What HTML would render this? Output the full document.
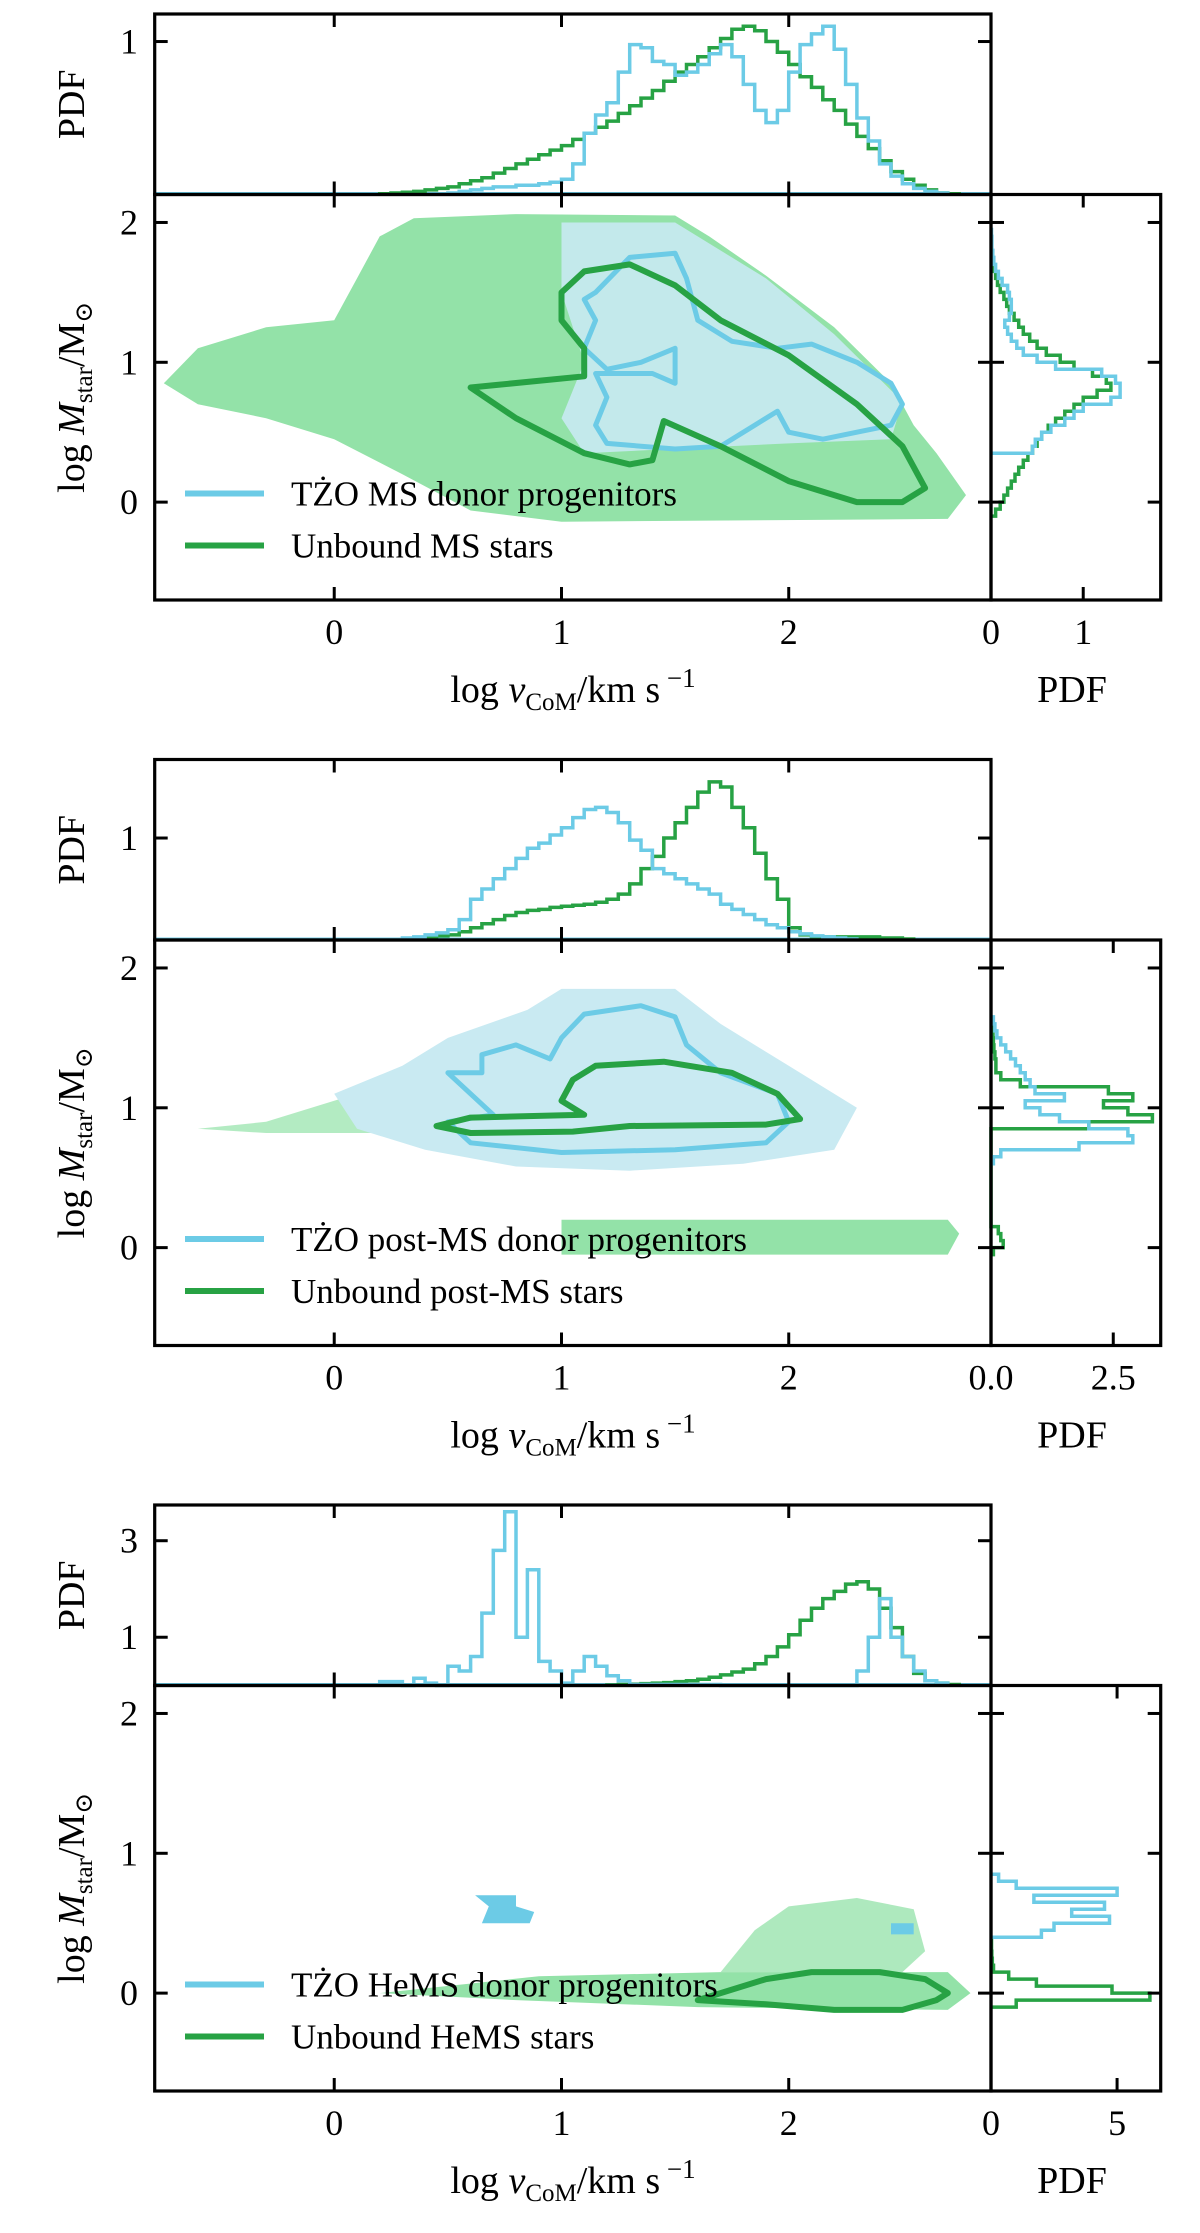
<!DOCTYPE html>
<html><head><meta charset="utf-8"><style>
html,body{margin:0;padding:0;background:#fff;}
svg{display:block;font-family:"Liberation Serif","DejaVu Serif",serif;}
</style></head>
<body>
<svg id="fig" width="1200" height="2233" viewBox="0 0 1200 2233" xmlns="http://www.w3.org/2000/svg"></svg>
<script>
// ---------- data ----------
const xTicks = [0, 1, 2];
const yTicks = [0, 1, 2];
const binW = 0.05;
// panel 1 (MS)
const p1TopGreenStart = 0.2;
const p1TopGreen = [.005,.01,.015,.02,.03,.04,.05,.07,.09,.11,.14,.17,.2,.23,.26,.29,.32,.36,.4,.44,.48,.53,.58,.63,.68,.74,.8,.85,.9,.96,1.02,1.08,1.1,1.07,1.0,.93,.85,.77,.7,.62,.55,.46,.38,.3,.22,.15,.1,.06,.03,.01,.005];
const p1TopBlueStart = 0.5;
const p1TopBlue = [.01,.02,.03,.04,.05,.05,.06,.06,.07,.08,.1,.2,.4,.52,.6,.8,.98,.96,.87,.85,.78,.8,.85,.92,.98,.9,.72,.55,.47,.55,.8,.98,1.05,1.1,.95,.72,.5,.35,.2,.12,.07,.04,.02,.01];
const p1RightBlueStart = 0.35;
const p1RightBlue = [.45,.48,.55,.65,.8,.9,1.0,1.3,1.4,1.4,1.35,1.2,.7,.5,.35,.28,.22,.18,.15,.2,.22,.22,.2,.18,.12,.08,.05,.03,.02,.01,.01,.005];
const p1RightGreenStart = -0.1;
const p1RightGreen = [.05,.1,.14,.18,.22,.26,.3,.35,.4,.45,.5,.55,.62,.7,.8,.9,1.0,1.15,1.3,1.25,1.1,.9,.75,.6,.5,.42,.35,.3,.25,.2,.17,.14,.1,.07,.05,.03,.02,.01,.005];
// panel 2 (post-MS)
const p2TopBlueStart = 0.3;
const p2TopBlue = [.02,.03,.05,.07,.1,.2,.4,.5,.6,.7,.8,.9,.95,1.03,1.1,1.2,1.28,1.3,1.25,1.15,.98,.88,.7,.65,.6,.55,.5,.45,.35,.3,.25,.2,.15,.12,.08,.06,.04,.03,.02,.01];
const p2TopGreenStart = 0.4;
const p2TopGreen = [.02,.04,.05,.08,.12,.16,.2,.24,.27,.29,.3,.32,.33,.34,.35,.37,.4,.45,.55,.7,.82,1.0,1.15,1.3,1.45,1.55,1.5,1.3,1.1,.85,.6,.4,.12,.05,.03,.03,.03,.03,.03,.03,.02,.02,.01];
const p2RightBlueStart = 0.6;
const p2RightBlue = [.05,.2,1.8,2.9,2.8,2.0,1.4,1.0,.7,1.5,.9,.8,.7,.6,.5,.4,.3,.2,.12,.08,.05];
const p2RightGreenStart = -0.05;
const p2RightGreen = [.05,.25,.2,.15,0,0,0,0,0,0,0,0,0,0,0,0,0,0,2.0,3.3,2.8,2.3,2.9,2.4,.6,.2,.1,.1,.08,.06,.05,.04,.03];
// panel 3 (HeMS)
const p3TopBlueStart = 0.2;
const p3TopBlue = [.08,.08,0,.15,.05,0,.4,.3,.6,1.5,2.8,3.6,1.0,2.4,.5,.3,.05,.3,.6,.4,.2,.1,.02,.02,.02,.02,.02,.02,.02,.02,0,0,0,0,0,0,0,0,0,0,0,0,.3,1.0,1.8,1.0,.6,.3,.1,.05];
const p3TopGreenStart = 1.2;
const p3TopGreen = [.01,.02,.03,.04,.05,.06,.08,.1,.13,.17,.22,.28,.34,.45,.6,.8,1.05,1.35,1.6,1.8,1.95,2.1,2.15,2.0,1.6,1.2,.6,.25,.1,.05,.02];
const p3RightBlueStart = 0.4;
const p3RightBlue = [2.0,2.5,4.7,3.2,4.5,1.7,5.0,1.0,.3];
const p3RightGreenStart = -0.1;
const p3RightGreen = [1.0,6.3,4.8,1.8,.7,.1,.05,.03,.02,.02];

// clouds & contours (data coordinates: [logv, logM])
const p1Cloud = [[-0.75,0.85],[-0.6,1.1],[-0.3,1.25],[0,1.3],[0.1,1.6],[0.2,1.9],[0.35,2.03],[0.8,2.06],[1.5,2.05],[1.65,1.9],[1.9,1.62],[2.2,1.25],[2.45,0.85],[2.55,0.55],[2.65,0.35],[2.78,0.05],[2.7,-0.12],[1.0,-0.14],[0.6,-0.06],[0.3,0.2],[0,0.45],[-0.3,0.6],[-0.6,0.7]];
const p1BlueFill = [[1.0,2.0],[1.5,2.0],[1.9,1.6],[2.2,1.2],[2.5,0.72],[2.45,0.45],[2.0,0.42],[1.1,0.35],[1.0,0.6],[1.1,1.0],[1.0,1.5]];
const p1BlueContour = [[1.15,1.5],[1.3,1.75],[1.5,1.78],[1.55,1.6],[1.6,1.3],[1.75,1.15],[1.95,1.1],[2.1,1.13],[2.3,1.0],[2.45,0.85],[2.5,0.7],[2.45,0.55],[2.3,0.5],[2.15,0.45],[2.0,0.5],[1.95,0.65],[1.85,0.55],[1.7,0.4],[1.5,0.38],[1.2,0.42],[1.15,0.55],[1.2,0.75],[1.15,0.92],[1.4,0.92],[1.5,0.85],[1.5,1.1],[1.35,1.0],[1.2,0.95],[1.1,1.1],[1.15,1.3],[1.1,1.45]];
const p1GreenContour = [[1.0,1.5],[1.1,1.65],[1.3,1.7],[1.5,1.55],[1.7,1.3],[2.0,1.05],[2.3,0.7],[2.5,0.4],[2.6,0.1],[2.5,0.0],[2.3,0.0],[2.0,0.15],[1.7,0.4],[1.45,0.58],[1.4,0.3],[1.3,0.27],[1.1,0.35],[0.8,0.6],[0.6,0.82],[1.1,0.9],[1.1,1.1],[1.0,1.3],[1.0,1.45]];
const p2CloudLeft = [[-0.6,0.85],[-0.3,0.9],[0,1.05],[0.2,1.15],[0.5,1.2],[0.5,0.85],[0.2,0.82],[-0.3,0.82]];
const p2CloudBand = [[1.0,0.02],[1.0,0.2],[2.7,0.2],[2.75,0.1],[2.7,-0.05],[1.0,-0.05]];
const p2BlueFill = [[0.3,1.3],[0.5,1.5],[0.85,1.7],[1.0,1.85],[1.5,1.85],[1.7,1.6],[2.0,1.3],[2.3,1.0],[2.2,0.7],[1.8,0.6],[1.3,0.55],[0.8,0.58],[0.4,0.7],[0.1,0.85],[0.0,1.1]];
const p2BlueContour = [[0.5,0.9],[0.6,0.75],[1.0,0.68],[1.5,0.7],[1.9,0.75],[2.0,0.9],[1.95,1.1],[1.7,1.25],[1.55,1.45],[1.5,1.65],[1.35,1.73],[1.1,1.67],[1.0,1.5],[0.95,1.35],[0.8,1.45],[0.65,1.38],[0.65,1.25],[0.5,1.25],[0.6,1.1],[0.7,0.95]];
const p2GreenContour = [[0.45,0.87],[0.6,0.93],[1.1,0.95],[1.0,1.05],[1.05,1.2],[1.15,1.3],[1.45,1.33],[1.75,1.25],[1.95,1.1],[2.05,0.92],[1.9,0.88],[1.3,0.87],[1.05,0.83],[0.6,0.82]];
const p3CloudBand = [[0.2,0.0],[0.9,0.12],[1.7,0.15],[2.7,0.15],[2.8,0.0],[2.7,-0.12],[1.6,-0.1],[0.8,-0.05]];
const p3CloudClump = [[1.7,0.15],[1.85,0.45],[2.0,0.62],[2.3,0.68],[2.55,0.6],[2.6,0.3],[2.5,0.15]];
const p3BlueBlob1 = [[0.62,0.7],[0.8,0.7],[0.8,0.62],[0.88,0.58],[0.86,0.5],[0.65,0.5],[0.68,0.62]];
const p3BlueBlob2 = [[2.45,0.5],[2.55,0.5],[2.55,0.42],[2.45,0.42]];
const p3GreenContour = [[1.6,-0.05],[1.9,-0.08],[2.2,-0.12],[2.5,-0.12],[2.65,-0.05],[2.7,0.0],[2.6,0.1],[2.4,0.15],[2.1,0.15],[1.9,0.1],[1.7,0.0]];

// ---------- layout ----------
const L = 154.7, R = 991, RR = 1160.7;
const HIST_H = 180.5, MAIN_H = 405.5;
const XMIN = -0.79, XMAX = 2.89, YMIN = -0.7, YMAX = 2.2;
const BLUE = "#6ccbe6", GREEN = "#27a244", CLOUD = "#93e2a8", BLUEFILL = "#c9eaf2";
const NS = "http://www.w3.org/2000/svg";
const svg = document.getElementById("fig");

function mk(tag, attrs, parent) {
  const e = document.createElementNS(NS, tag);
  for (const k in attrs) e.setAttribute(k, attrs[k]);
  (parent || svg).appendChild(e);
  return e;
}
function xs(v) { return L + (v - XMIN) / (XMAX - XMIN) * (R - L); }

const panels = [
  { top: 14, histMax: 1.18, histTicks: [1], rMax: 1.84, rTicks: [0, 1], rLabels: ["0", "1"],
    topG: [p1TopGreenStart, p1TopGreen], topB: [p1TopBlueStart, p1TopBlue],
    rG: [p1RightGreenStart, p1RightGreen], rB: [p1RightBlueStart, p1RightBlue],
    legend: ["TŻO MS donor progenitors", "Unbound MS stars"], name: "ms" },
  { top: 759.5, histMax: 1.77, histTicks: [1], rMax: 3.47, rTicks: [0, 2.5], rLabels: ["0.0", "2.5"],
    topG: [p2TopGreenStart, p2TopGreen], topB: [p2TopBlueStart, p2TopBlue],
    rG: [p2RightGreenStart, p2RightGreen], rB: [p2RightBlueStart, p2RightBlue],
    legend: ["TŻO post-MS donor progenitors", "Unbound post-MS stars"], name: "post-ms" },
  { top: 1505, histMax: 3.74, histTicks: [1, 3], rMax: 6.73, rTicks: [0, 5], rLabels: ["0", "5"],
    topG: [p3TopGreenStart, p3TopGreen], topB: [p3TopBlueStart, p3TopBlue],
    rG: [p3RightGreenStart, p3RightGreen], rB: [p3RightBlueStart, p3RightBlue],
    legend: ["TŻO HeMS donor progenitors", "Unbound HeMS stars"], name: "hems" }
];

function polyPath(pts, ys) {
  return pts.map((p, i) => (i ? "L" : "M") + xs(p[0]).toFixed(1) + "," + ys(p[1]).toFixed(1)).join("") + "Z";
}

panels.forEach((P, pi) => {
  const hTop = P.top, hBot = P.top + HIST_H, mBot = hBot + MAIN_H;
  const ys = v => hBot + (YMAX - v) / (YMAX - YMIN) * MAIN_H;
  const hy = v => hBot - v / P.histMax * HIST_H;
  const rx = v => R + v / P.rMax * (RR - R);
  const g = mk("g", {});
  
  

  // clip for main
  const cid = "clip" + pi;
  const cp = mk("clipPath", { id: cid }, g);
  mk("rect", { x: L, y: hBot, width: R - L, height: MAIN_H }, cp);
  const main = mk("g", { "clip-path": "url(#" + cid + ")" }, g);
  
  

  function fillPoly(pts, color, name, op) {
    const e = mk("path", { d: polyPath(pts, ys), fill: color, "fill-opacity": op || 1 }, main);
    
    
  }
  function contour(pts, color, w, name) {
    const e = mk("path", { d: polyPath(pts, ys), fill: "none", stroke: color, "stroke-width": w, "stroke-linejoin": "round" }, main);
    
    
  }
  if (pi === 0) {
    fillPoly(p1Cloud, CLOUD, "unbound-scatter-cloud");
    fillPoly(p1BlueFill, BLUEFILL, "tzo-scatter-cloud", 0.9);
    contour(p1BlueContour, BLUE, 5, "tzo-contour");
    contour(p1GreenContour, GREEN, 6, "unbound-contour");
  } else if (pi === 1) {
    fillPoly(p2CloudLeft, CLOUD, "unbound-scatter-left", 0.7);
    fillPoly(p2CloudBand, CLOUD, "unbound-scatter-band");
    fillPoly(p2BlueFill, BLUEFILL, "tzo-scatter-cloud");
    contour(p2BlueContour, BLUE, 5, "tzo-contour");
    contour(p2GreenContour, GREEN, 6, "unbound-contour");
  } else {
    fillPoly(p3CloudBand, CLOUD, "unbound-scatter-band");
    fillPoly(p3CloudClump, CLOUD, "unbound-scatter-clump", 0.75);
    fillPoly(p3BlueBlob1, BLUE, "tzo-blob-low-v");
    fillPoly(p3BlueBlob2, BLUE, "tzo-blob-high-v");
    contour(p3GreenContour, GREEN, 6, "unbound-contour");
  }

  // top histograms
  function topHist(start, vals, color, name) {
    let d = "M" + xs(start).toFixed(1) + "," + hBot;
    vals.forEach((v, i) => {
      const x0 = xs(start + i * binW), x1 = xs(start + (i + 1) * binW);
      d += "L" + x0.toFixed(1) + "," + hy(v).toFixed(1) + "L" + x1.toFixed(1) + "," + hy(v).toFixed(1);
    });
    d += "L" + xs(start + vals.length * binW).toFixed(1) + "," + hBot;
    const e = mk("path", { d: d, fill: "none", stroke: color, "stroke-width": 3.5 }, g);
    
    
  }
  mk("line", { x1: L, x2: R, y1: hBot - 1, y2: hBot - 1, stroke: BLUE, "stroke-width": 3 }, g);
  topHist(P.topG[0], P.topG[1], GREEN, "top-hist-unbound");
  topHist(P.topB[0], P.topB[1], BLUE, "top-hist-tzo");

  // right histograms
  function rightHist(start, vals, color, name) {
    let d = "M" + R + "," + ys(start).toFixed(1);
    vals.forEach((v, i) => {
      const y0 = ys(start + i * binW), y1 = ys(start + (i + 1) * binW);
      d += "L" + rx(v).toFixed(1) + "," + y0.toFixed(1) + "L" + rx(v).toFixed(1) + "," + y1.toFixed(1);
    });
    d += "L" + R + "," + ys(start + vals.length * binW).toFixed(1);
    const e = mk("path", { d: d, fill: "none", stroke: color, "stroke-width": 3.5 }, g);
    
    
  }
  rightHist(P.rG[0], P.rG[1], GREEN, "right-hist-unbound");
  rightHist(P.rB[0], P.rB[1], BLUE, "right-hist-tzo");

  // frames
  const sw = 3.2;
  const f1 = mk("rect", { x: L, y: hTop, width: R - L, height: HIST_H, fill: "none", stroke: "#000", "stroke-width": sw }, g);
  
  
  const f2 = mk("rect", { x: L, y: hBot, width: R - L, height: MAIN_H, fill: "none", stroke: "#000", "stroke-width": sw }, g);
  
  
  const f3 = mk("rect", { x: R, y: hBot, width: RR - R, height: MAIN_H, fill: "none", stroke: "#000", "stroke-width": sw }, g);
  
  

  const T = 13, tw = 3;
  // x ticks
  xTicks.forEach(t => {
    const x = xs(t);
    [[hBot, hBot - T], [hTop, hTop + T], [mBot, mBot - T], [hBot, hBot + T]].forEach(s =>
      mk("line", { x1: x, x2: x, y1: s[0], y2: s[1], stroke: "#000", "stroke-width": tw }, g));
    const tl = mk("text", { x: x, y: mBot + 44, "font-size": 36, "text-anchor": "middle" }, g);
    tl.textContent = String(t);
    
    
  });
  // y ticks main
  yTicks.forEach(t => {
    const y = ys(t);
    [[L, L + T], [R, R - T], [R, R + T], [RR, RR - T]].forEach(s =>
      mk("line", { x1: s[0], x2: s[1], y1: y, y2: y, stroke: "#000", "stroke-width": tw }, g));
    const tl = mk("text", { x: 138, y: y + 12, "font-size": 36, "text-anchor": "end" }, g);
    tl.textContent = String(t);
    
    
  });
  // hist y ticks
  P.histTicks.forEach(t => {
    const y = hy(t);
    [[L, L + T], [R, R - T]].forEach(s =>
      mk("line", { x1: s[0], x2: s[1], y1: y, y2: y, stroke: "#000", "stroke-width": tw }, g));
    const tl = mk("text", { x: 138, y: y + 12, "font-size": 36, "text-anchor": "end" }, g);
    tl.textContent = String(t);
    
    
  });
  // right hist x ticks
  P.rTicks.forEach((t, i) => {
    const x = rx(t);
    if (t !== 0) {
      mk("line", { x1: x, x2: x, y1: mBot, y2: mBot - T, stroke: "#000", "stroke-width": tw }, g);
      mk("line", { x1: x, x2: x, y1: hBot, y2: hBot + T, stroke: "#000", "stroke-width": tw }, g);
    }
    const tl = mk("text", { x: x, y: mBot + 44, "font-size": 36, "text-anchor": "middle" }, g);
    tl.textContent = P.rLabels[i];
    
    
  });

  // axis labels
  const xl = mk("text", { x: 573, y: mBot + 102, "font-size": 38, "text-anchor": "middle" }, g);
  xl.innerHTML = 'log <tspan font-style="italic">v</tspan><tspan font-size="25" dy="8">CoM</tspan><tspan dy="-8">/km s</tspan><tspan font-size="27" dy="-15"> −1</tspan>';
  
  
  const pl = mk("text", { x: 1072, y: mBot + 102, "font-size": 38, "text-anchor": "middle" }, g);
  pl.textContent = "PDF";
  
  
  const yl = mk("text", { x: 0, y: 0, "font-size": 38, "text-anchor": "middle", transform: "translate(84," + ((hBot + mBot) / 2).toFixed(1) + ") rotate(-90)" }, g);
  yl.innerHTML = 'log <tspan font-style="italic">M</tspan><tspan font-size="25" dy="8">star</tspan><tspan dy="-8">/M</tspan><tspan font-size="25" dy="8">⊙</tspan>';
  
  
  const hl = mk("text", { x: 0, y: 0, "font-size": 38, "text-anchor": "middle", transform: "translate(84," + ((hTop + hBot) / 2).toFixed(1) + ") rotate(-90)" }, g);
  hl.textContent = "PDF";
  
  

  // legend
  const lg = mk("g", {}, g);
  
  
  [[BLUE, P.legend[0], 299], [GREEN, P.legend[1], 351]].forEach((it, i) => {
    const y = hBot + it[2];
    mk("line", { x1: 185, x2: 264, y1: y, y2: y, stroke: it[0], "stroke-width": 6 }, lg);
    const t = mk("text", { x: 291, y: y + 12, "font-size": 35 }, lg);
    t.textContent = it[1];
    
    
  });
});
</script>
</body></html>
